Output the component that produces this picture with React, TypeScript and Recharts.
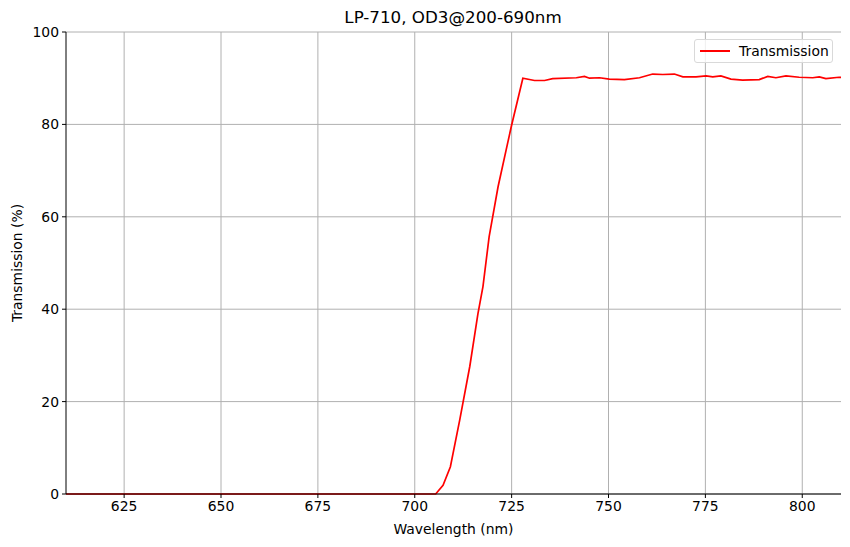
import { LineChart, Line, XAxis, YAxis, CartesianGrid, Legend } from 'recharts';

const wavelengths = [
  600, 610, 650, 700, 705.4, 707.3, 709.2, 711.6, 714.2, 716.3, 717.6, 719.2, 721.5, 724.9, 727.9,
  730.9, 733.5, 735.6, 741.7, 743.8, 745.1, 747.7, 750.2, 754.1, 758, 761.4, 764, 767, 769.2, 772.6,
  775.2, 776.9, 779, 781.6, 784.6, 788.9, 791.1, 793.2, 795.8, 799.2, 802.7, 804.4, 806.1, 809.5, 815,
];
const transmission = [
  0, 0, 0, 0, 0, 1.9, 5.9, 16, 27.6, 39, 44.9, 55.7, 66.5, 79.5, 90,
  89.5, 89.5, 89.9, 90.1, 90.4, 90.0, 90.1, 89.8, 89.7, 90.1, 90.9, 90.8, 90.9, 90.3, 90.3,
  90.5, 90.3, 90.5, 89.8, 89.6, 89.7, 90.4, 90.1, 90.5, 90.2, 90.1, 90.3, 89.9, 90.2, 90.1,
];
const xTicks = [625, 650, 675, 700, 725, 750, 775, 800];
const yTicks = [0, 20, 40, 60, 80, 100];

const data = wavelengths.map((w, i) => ({ wl: w, t: transmission[i] }));

const FONT = 'DejaVu Sans';

function LegendBox() {
  return (
    <div
      style={{
        position: 'absolute',
        left: 694,
        top: 39,
        width: 139,
        height: 24,
        border: '1px solid #d9d9d9',
        borderRadius: 3,
        background: 'rgba(255,255,255,0.8)',
        boxSizing: 'border-box',
        fontFamily: FONT,
        fontSize: 13.9,
      }}
    >
      <div style={{ position: 'absolute', left: 5, top: 10, width: 30, height: 2, background: '#ff0000' }} />
      <div style={{ position: 'absolute', left: 44, top: 3, whiteSpace: 'nowrap' }}>Transmission</div>
    </div>
  );
}

export default function App() {
  const tick = { fill: '#000', fontSize: 13.9, fontFamily: FONT };
  return (
    <div style={{ position: 'absolute', left: 0, top: 0, width: 850, height: 547, fontFamily: FONT }}>
      <div style={{ position: 'absolute', top: 7, width: 850, textAlign: 'center', fontSize: 16.7, left: 28 }}>
        LP-710, OD3@200-690nm
      </div>
      <div
        style={{
          position: 'absolute',
          left: 17,
          top: 263,
          transform: 'translate(-50%, -50%) rotate(-90deg)',
          fontSize: 13.9,
          whiteSpace: 'nowrap',
        }}
      >
        Transmission (%)
      </div>
      <div style={{ position: 'absolute', top: 521, left: 66, width: 775, textAlign: 'center', fontSize: 13.9 }}>
        Wavelength (nm)
      </div>
      <LineChart width={850} height={547} data={data} margin={{ top: 32, right: 9, left: 0, bottom: 0 }}>
        <CartesianGrid stroke="#b0b0b0" strokeWidth={1} horizontalValues={yTicks} verticalValues={xTicks} />
        <XAxis
          dataKey="wl"
          type="number"
          domain={[610, 810]}
          allowDataOverflow
          ticks={xTicks}
          height={53}
          tick={tick}
          tickLine={{ stroke: '#000' }}
          tickSize={4}
          tickMargin={3}
          axisLine={{ stroke: '#000' }}
        />
        <XAxis
          xAxisId="top"
          orientation="top"
          dataKey="wl"
          type="number"
          domain={[610, 810]}
          height={0}
          tick={false}
          tickLine={false}
          axisLine={{ stroke: '#000' }}
        />
        <YAxis
          type="number"
          domain={[0, 100]}
          ticks={yTicks}
          width={66}
          tick={tick}
          tickLine={{ stroke: '#000' }}
          tickSize={4}
          tickMargin={3}
          axisLine={{ stroke: '#000' }}
        />
        <YAxis
          yAxisId="right"
          orientation="right"
          domain={[0, 100]}
          width={0}
          tick={false}
          tickLine={false}
          axisLine={{ stroke: '#000' }}
        />
        <Legend content={() => <LegendBox />} wrapperStyle={{ position: 'absolute', left: 0, top: 0, width: 0, height: 0 }} />
        <Line
          type="linear"
          dataKey="t"
          stroke="#ff0000"
          strokeWidth={1.7}
          dot={false}
          isAnimationActive={false}
          name="Transmission"
        />
      </LineChart>
    </div>
  );
}
